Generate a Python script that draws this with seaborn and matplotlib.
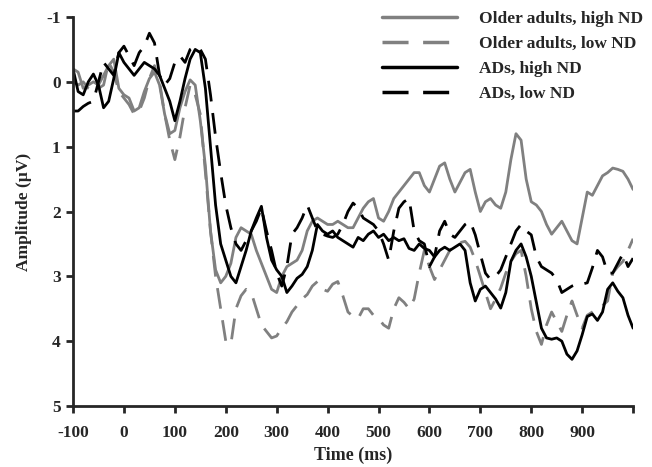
import numpy as np
import pandas as pd
import matplotlib
matplotlib.use("Agg")
import matplotlib.pyplot as plt
import seaborn as sns

time_ms = list(range(-100, 1001, 10))

oa_high = [-0.2, -0.15, 0.1, 0.05, 0.0, 0.05, -0.1, -0.25, -0.35, 0.1,
           0.2, 0.25, 0.45, 0.4, 0.15, -0.05, -0.15, 0.05, 0.5, 0.8,
           0.75, 0.4, 0.15, -0.03, 0.05, 0.6, 1.3, 2.3, 2.9, 3.1,
           3.0, 2.8, 2.4, 2.25, 2.3, 2.35, 2.6, 2.8, 3.0, 3.2,
           3.25, 3.0, 2.85, 2.8, 2.75, 2.6, 2.3, 2.15, 2.1, 2.15,
           2.2, 2.2, 2.15, 2.2, 2.25, 2.25, 2.1, 1.95, 1.85, 1.8,
           2.1, 2.15, 2.0, 1.8, 1.7, 1.6, 1.5, 1.4, 1.4, 1.6,
           1.7, 1.5, 1.3, 1.25, 1.5, 1.7, 1.55, 1.4, 1.35, 1.7,
           2.0, 1.85, 1.8, 1.9, 1.95, 1.7, 1.2, 0.8, 0.9, 1.5,
           1.85, 1.9, 2.0, 2.2, 2.35, 2.25, 2.15, 2.3, 2.45, 2.5,
           2.1, 1.7, 1.75, 1.6, 1.45, 1.4, 1.33, 1.35, 1.38, 1.5, 1.66]

oa_low = [0.0, 0.05, 0.0, 0.1, 0.15, 0.1, 0.05, -0.3, -0.15, 0.15,
          0.25, 0.35, 0.5, 0.45, 0.25, -0.05, -0.25, 0.0, 0.5, 0.9,
          1.2, 0.85, 0.4, 0.05, 0.2, 0.5, 1.4, 2.3, 3.0, 3.5,
          4.0, 4.05, 3.5, 3.3, 3.2, 3.25, 3.5, 3.75, 3.85, 3.95,
          3.92, 3.8, 3.7, 3.55, 3.45, 3.35, 3.28, 3.15, 3.08, 3.2,
          3.23, 3.12, 3.08, 3.3, 3.55, 3.62, 3.65, 3.5, 3.5, 3.6,
          3.65, 3.75, 3.8, 3.5, 3.33, 3.4, 3.5, 3.35, 2.95, 2.6,
          2.85, 3.05, 2.9, 2.75, 2.6, 2.5, 2.48, 2.46, 2.55, 2.75,
          3.0, 3.25, 3.5, 3.35, 3.18, 2.95, 2.77, 2.65, 2.6, 3.0,
          3.5, 3.85, 4.05, 3.75, 3.55, 3.7, 3.85, 3.6, 3.38, 3.6,
          3.8, 3.6, 3.55, 3.5, 3.45, 3.38, 2.95, 2.85, 2.77, 2.6, 2.42]

ad_high = [-0.2, 0.15, 0.2, 0.0, -0.12, 0.05, 0.4, 0.3, -0.05, -0.45,
           -0.3, -0.2, -0.1, -0.2, -0.3, -0.25, -0.2, -0.1, 0.1, 0.3,
           0.6, 0.3, -0.05, -0.35, -0.5, -0.45, 0.1, 1.0, 1.9, 2.5,
           2.75, 3.0, 3.1, 2.85, 2.6, 2.3, 2.1, 1.92, 2.4, 2.75,
           2.9, 3.0, 3.25, 3.15, 3.03, 2.97, 2.85, 2.6, 2.2, 2.3,
           2.35, 2.3, 2.4, 2.45, 2.5, 2.55, 2.4, 2.45, 2.35, 2.3,
           2.4, 2.35, 2.45, 2.4, 2.45, 2.42, 2.57, 2.6, 2.5, 2.57,
           2.6, 2.7, 2.6, 2.55, 2.6, 2.55, 2.5, 2.6, 3.1, 3.38,
           3.2, 3.15, 3.25, 3.35, 3.49, 3.25, 2.77, 2.6, 2.5, 2.7,
           3.0, 3.4, 3.8, 3.95, 3.97, 3.95, 4.0, 4.2, 4.28, 4.15,
           3.9, 3.62, 3.58, 3.68, 3.55, 3.2, 3.1, 3.23, 3.33, 3.6, 3.8]

ad_low = [0.45, 0.45, 0.38, 0.33, 0.3, 0.0, -0.3, -0.2, -0.1, -0.45,
          -0.55, -0.4, -0.25, -0.45, -0.55, -0.75, -0.6, -0.1, 0.05, -0.05,
          -0.3, -0.4, -0.3, -0.5, -0.55, -0.5, -0.35, 0.2, 0.85, 1.4,
          1.9, 2.25, 2.5, 2.6, 2.45, 2.3, 2.15, 1.95, 2.3, 2.6,
          2.95, 3.15, 2.85, 2.35, 2.25, 2.1, 1.9, 2.1, 2.3, 2.35,
          2.38, 2.4, 2.35, 2.2, 2.0, 1.87, 1.95, 2.1, 2.15, 2.2,
          2.3, 2.5, 2.75, 2.3, 1.95, 1.85, 1.8, 2.3, 2.45, 2.5,
          2.85, 2.7, 2.3, 2.15, 2.35, 2.4, 2.3, 2.2, 2.15, 2.36,
          2.66, 2.95, 3.05, 3.0, 2.9, 2.7, 2.5, 2.3, 2.2, 2.3,
          2.36, 2.7, 2.85, 2.9, 2.95, 3.05, 3.25, 3.2, 3.15, 3.12,
          3.12, 3.1, 2.87, 2.6, 2.7, 2.95, 2.95, 2.8, 2.65, 2.85, 2.72]

labels = ["Older adults, high ND", "Older adults, low ND",
          "ADs, high ND", "ADs, low ND"]
x_ticks = list(range(-100, 1001, 100))
x_tick_labels = [str(v) for v in range(-100, 901, 100)] + [""]
y_ticks = [-1, 0, 1, 2, 3, 4, 5]

frames = []
for lab, vals in zip(labels, [oa_high, oa_low, ad_high, ad_low]):
    frames.append(pd.DataFrame({"Time": time_ms, "Amp": vals, "Group": lab}))
df = pd.concat(frames, ignore_index=True)

sns.set_style("ticks")
plt.rcParams["font.family"] = ["Liberation Serif", "DejaVu Serif"]
plt.rcParams["font.weight"] = "bold"
plt.rcParams["axes.unicode_minus"] = False

fig = plt.figure(figsize=(6.52, 4.67), dpi=100)
ax = fig.add_axes([0.1120, 0.1306, 0.8590, 0.833])

palette = {labels[0]: "#808080", labels[1]: "#808080",
           labels[2]: "#000000", labels[3]: "#000000"}
dashes = {labels[0]: "", labels[1]: (7.5, 4.2),
          labels[2]: "", labels[3]: (7.5, 4.2)}

sns.lineplot(data=df, x="Time", y="Amp", hue="Group", style="Group",
             palette=palette, dashes=dashes, hue_order=labels,
             style_order=labels, linewidth=2.0, ax=ax, legend=True)

ax.set_xlim(-100, 1000)
ax.set_ylim(5, -1)
ax.set_xticks(x_ticks)
ax.set_xticklabels(x_tick_labels)
ax.set_yticks(y_ticks)
for lbl in ax.get_xticklabels() + ax.get_yticklabels():
    lbl.set_fontweight("bold")
    lbl.set_fontsize(12.5)
ax.tick_params(axis="both", direction="out", length=5, width=2)
ax.tick_params(axis="x", pad=9)
ax.tick_params(axis="y", pad=4)
for s in ["left", "bottom"]:
    ax.spines[s].set_linewidth(2)
sns.despine(ax=ax)

ax.set_xlabel("Time (ms)", fontsize=13, fontweight="bold", labelpad=4)
ax.set_ylabel("Amplitude (µV)", fontsize=12.5, fontweight="bold", labelpad=10)

handles, lbls = ax.get_legend_handles_labels()
leg = ax.legend(handles, lbls, loc="upper right", bbox_to_anchor=(1.046, 1.055),
                frameon=False, handlelength=4.3, handletextpad=1.3,
                labelspacing=0.5, prop={"weight": "bold", "size": 12.5})
for h in leg.get_lines():
    h.set_linewidth(2.5)

fig.savefig("out.png", dpi=100)
